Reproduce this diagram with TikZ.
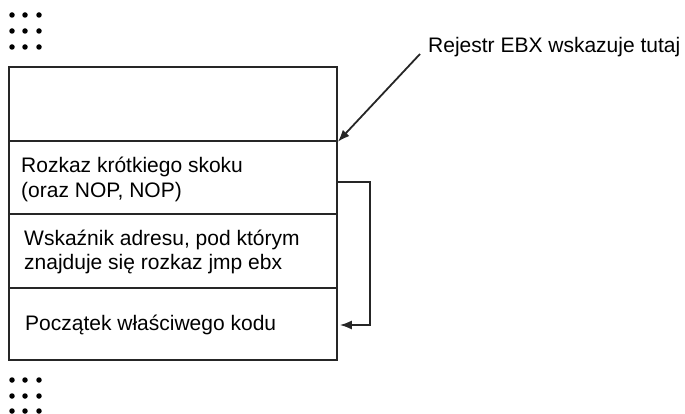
\documentclass[tikz,border=0pt]{standalone}
\usepackage{fontspec}
\setmainfont{Liberation Sans}
\usetikzlibrary{arrows.meta}
\begin{document}
\begin{tikzpicture}[x=1pt,y=-1pt,
  frame/.style={draw=black!85,line width=1.8pt},
  txt/.style={font=\fontsize{21}{25}\selectfont,inner sep=0pt,anchor=base west,text=black},
  link/.style={draw=black!85,line width=1.8pt,-{Latex[length=12pt,width=9pt]}},
  dot/.style={fill=black,circle,inner sep=0pt,minimum size=5.5pt}]
\useasboundingbox (0,0) rectangle (685,414);
% memory cells
\node[frame,minimum width=328pt,minimum height=74pt,anchor=north west,inner sep=0pt] (c0) at (8,66) {};
\node[frame,minimum width=328pt,minimum height=73pt,anchor=north west,inner sep=0pt] (c1) at (8,140) {};
\node[frame,minimum width=328pt,minimum height=74pt,anchor=north west,inner sep=0pt] (c2) at (8,213) {};
\node[frame,minimum width=328pt,minimum height=72pt,anchor=north west,inner sep=0pt] (c3) at (8,287) {};
% cell contents
\node[txt] (t1a) at (21,173) {Rozkaz krótkiego skoku};
\node[txt] (t1b) at (21,198) {(oraz NOP, NOP)};
\node[txt] (t2a) at (24,245) {Wskaźnik adresu, pod którym};
\node[txt] (t2b) at (24,269) {znajduje się rozkaz jmp ebx};
\node[txt] (t3) at (25,330) {Początek właściwego kodu};
% register label
\node[txt] (lab) at (428,53) {Rejestr EBX wskazuje tutaj};
\coordinate (labtail) at (420,54);
\draw[link] (labtail) -- (c0.south east);
% short jump
\coordinate (jfrom) at (c1.east |- 0,182);
\coordinate (jto) at (c3.east |- 0,325);
\draw[link] (jfrom) -- (370,182) -- (370,325) -- ([xshift=2pt]jto);
% ellipsis dots
\foreach \i/\yy in {1/15,2/31,3/47,4/380,5/396,6/411}{
  \foreach \j/\xx in {1/12,2/25,3/39}{
    \node[dot] (d\i\j) at (\xx,\yy) {};
  }
}
\end{tikzpicture}
\end{document}
